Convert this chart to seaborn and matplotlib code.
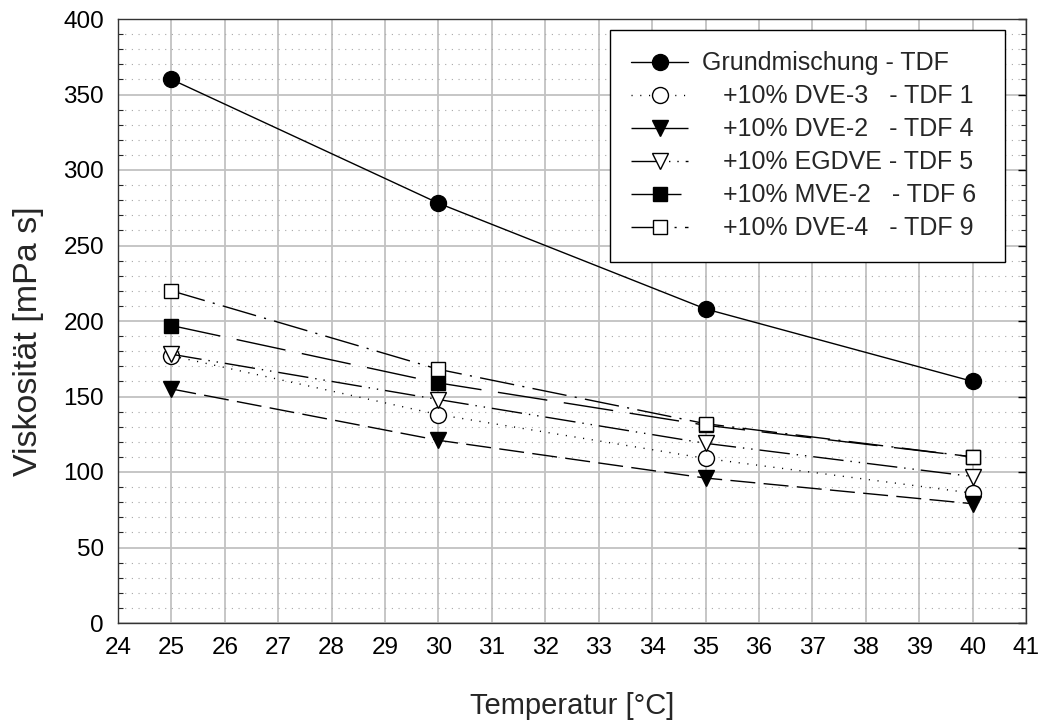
import numpy as np
import pandas as pd
import seaborn as sns
import matplotlib
matplotlib.use("Agg")
import matplotlib.pyplot as plt
from matplotlib.ticker import MultipleLocator

# ---- data ----
temperature = [25, 30, 35, 40]
grund = [360, 278, 208, 160]
dve3 = [177, 138, 109, 86]
dve2 = [155, 121, 96, 79]
egdve = [178, 148, 119, 97]
mve2 = [197, 159, 131, 110]
dve4 = [220, 168, 132, 110]

labels = [
    "Grundmischung - TDF",
    "   +10% DVE-3   - TDF 1",
    "   +10% DVE-2   - TDF 4",
    "   +10% EGDVE - TDF 5",
    "   +10% MVE-2   - TDF 6",
    "   +10% DVE-4   - TDF 9",
]
series = [grund, dve3, dve2, egdve, mve2, dve4]
x_ticks = list(range(24, 42))
y_ticks = list(range(0, 401, 50))

# styles
styles = [
    dict(marker="o", mfc="black", ls="-"),
    dict(marker="o", mfc="white", ls=(0, (0.8, 5.5))),
    dict(marker="v", mfc="black", ls=(0, (18, 6))),
    dict(marker="v", mfc="white", ls=(0, (22, 5, 1, 5, 1, 5))),
    dict(marker="s", mfc="black", ls=(0, (36, 12))),
    dict(marker="s", mfc="white", ls=(0, (25, 6, 1.5, 6))),
]

sns.set_style("white")
plt.rcParams["font.family"] = ["Liberation Sans", "DejaVu Sans"]

fig = plt.figure(figsize=(10.42, 7.26), dpi=100)
ax = fig.add_axes([118 / 1042, 1 - 623 / 726, 908 / 1042, 604 / 726])

for vals, lab, st in zip(series, labels, styles):
    df = pd.DataFrame({"T": temperature, "V": vals})
    ms = 11.5 if st["marker"] != "s" else 10.5
    sns.lineplot(data=df, x="T", y="V", ax=ax, color="black", linewidth=1.0,
                 linestyle=st["ls"], marker=st["marker"], markersize=ms,
                 markerfacecolor=st["mfc"], markeredgecolor="black",
                 markeredgewidth=1.0, label=lab + " ", zorder=3)

ax.set_xlim(24, 41)
ax.set_ylim(0, 400)
ax.set_xticks(x_ticks)
ax.set_yticks(y_ticks)
ax.yaxis.set_minor_locator(MultipleLocator(10))

ax.grid(True, which="major", color="#c2c2c2", linewidth=1.3, linestyle="-", zorder=0)
ax.grid(True, which="minor", axis="y", color="#a8a8a8", linewidth=0.8,
        linestyle=(0, (1, 5)), zorder=0)
ax.set_axisbelow(True)

for sp in ax.spines.values():
    sp.set_color("#333333")
    sp.set_linewidth(1.0)
    sp.set_visible(True)

ax.tick_params(axis="both", which="major", direction="in", length=6, width=1,
               top=False, right=True, colors="black")
ax.tick_params(axis="y", which="minor", direction="in", length=3.5, width=0.8,
               left=True, right=True)
ax.tick_params(axis="x", labelsize=17.5, pad=10)
ax.tick_params(axis="y", labelsize=17.5, pad=10)

ax.set_xlabel("Temperatur [°C]", fontsize=21, labelpad=24)
ax.set_ylabel("Viskosität [mPa s]", fontsize=24.5)
ax.yaxis.set_label_coords(-0.081, 0.467)

leg = ax.legend(loc="upper right", bbox_to_anchor=(0.977, 0.982), fontsize=18,
                frameon=True, fancybox=False, edgecolor="black",
                handlelength=2.28, handletextpad=0.56, labelspacing=0.36,
                borderpad=0.86, borderaxespad=0.0, framealpha=1.0)
leg.get_frame().set_linewidth(1.0)

fig.savefig("out.png", dpi=100)
